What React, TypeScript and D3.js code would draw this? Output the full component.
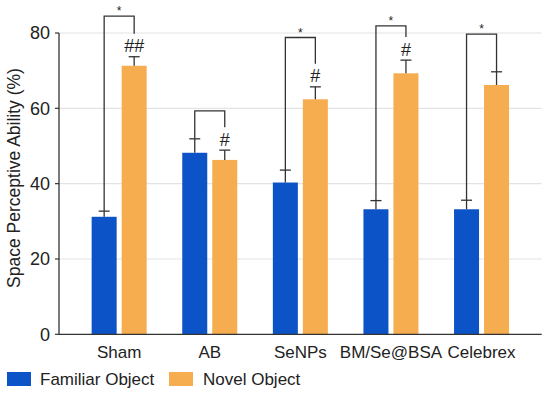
import React from 'react';
import * as d3 from 'd3';

// Data
const categories = ['Sham', 'AB', 'SeNPs', 'BM/Se@BSA', 'Celebrex'];
const familiar = [31.2, 48.2, 40.3, 33.2, 33.2];
const familiarErr = [1.5, 3.7, 3.3, 2.3, 2.4];
const novel = [71.3, 46.3, 62.4, 69.3, 66.2];
const novelErr = [2.4, 2.6, 3.3, 3.5, 3.5];
const hashMarks = ['##', '#', '#', '#', ''];
const bracketTop = [84.5, 59.3, 78.8, 81.9, 79.7];
const starMarks = ['*', '', '*', '*', '*'];
const yTicks = [0, 20, 40, 60, 80];

const BLUE = '#0b53c6';
const ORANGE = '#f6ad4f';
const INK = '#333';
const FONT = '"Liberation Sans", Arial, sans-serif';

const App = () => {
  const width = 550;
  const height = 393;
  const left = 59;
  const right = 541.7;

  const y = d3.scaleLinear().domain([0, 80]).range([334.3, 33]);
  const x = d3.scalePoint<string>().domain(categories).range([left, right]).padding(0.664);

  const barW = 25;
  const gap = 2.5;
  const capW = 11;

  return (
    <svg width={width} height={height} style={{ position: 'absolute', left: 0, top: 0 }}>
      <rect width={width} height={height} fill="#fff" />
      {/* grid */}
      {yTicks.filter(t => t > 0).map(t => (
        <line key={t} x1={left} x2={right} y1={y(t)} y2={y(t)} stroke="#e3e3e3" strokeWidth={1.2} />
      ))}
      {/* y ticks */}
      {yTicks.map(t => (
        <g key={t}>
          <line x1={left - 4} x2={left} y1={y(t)} y2={y(t)} stroke={INK} strokeWidth={1.2} />
          <text x={50} y={y(t)} dy="0.36em" textAnchor="end" fontSize={18} fontFamily={FONT} fill="#222">{t}</text>
        </g>
      ))}
      <line x1={left} x2={left} y1={y(0)} y2={y(80)} stroke={INK} strokeWidth={1.3} />

      {categories.map((c, i) => {
        const cx = x(c) as number;
        const fx = cx - gap - barW;
        const nx = cx + gap;
        const fc = fx + barW / 2;
        const nc = nx + barW / 2;
        const fTop = y(familiar[i] + familiarErr[i]);
        const nTop = y(novel[i] + novelErr[i]);
        const bTop = y(bracketTop[i]);
        const rightEnd = hashMarks[i] ? nTop - 23 : nTop;
        return (
          <g key={c}>
            <rect x={fx} y={y(familiar[i])} width={barW} height={y(0) - y(familiar[i])} fill={BLUE} />
            <rect x={nx} y={y(novel[i])} width={barW} height={y(0) - y(novel[i])} fill={ORANGE} />
            {/* error bars */}
            <line x1={fc} x2={fc} y1={y(familiar[i])} y2={fTop} stroke={INK} strokeWidth={1.3} />
            <line x1={fc - capW / 2} x2={fc + capW / 2} y1={fTop} y2={fTop} stroke={INK} strokeWidth={1.3} />
            <line x1={nc} x2={nc} y1={y(novel[i])} y2={nTop} stroke={INK} strokeWidth={1.3} />
            <line x1={nc - capW / 2} x2={nc + capW / 2} y1={nTop} y2={nTop} stroke={INK} strokeWidth={1.3} />
            {/* bracket */}
            <path d={`M${fc},${fTop}V${bTop}H${nc}V${rightEnd}`} fill="none" stroke={INK} strokeWidth={1.3} />
            {starMarks[i] && (
              <text x={(fc + nc) / 2} y={bTop - 1} textAnchor="middle" fontSize={12} fontFamily={FONT} fill="#222">{starMarks[i]}</text>
            )}
            {hashMarks[i] && (
              <text x={nc} y={nTop - 11} dy="0.36em" textAnchor="middle" fontSize={18} fontFamily={FONT} fill="#222">{hashMarks[i]}</text>
            )}
            <text x={cx} y={351.7} dy="0.36em" textAnchor="middle" fontSize={17} fontFamily={FONT} fill="#222">{c}</text>
          </g>
        );
      })}
      <line x1={left} x2={right} y1={y(0)} y2={y(0)} stroke={INK} strokeWidth={1.3} />

      {/* y title */}
      <text transform={`translate(20,178) rotate(-90)`} textAnchor="middle" fontSize={17.5} fontFamily={FONT} fill="#222">
        Space Perceptive Ability (%)
      </text>

      {/* legend */}
      <rect x={7} y={372} width={24} height={14} fill={BLUE} />
      <text x={40} y={379} dy="0.36em" fontSize={17} fontFamily={FONT} fill="#222">Familiar Object</text>
      <rect x={169} y={372} width={24} height={14} fill={ORANGE} />
      <text x={203} y={379} dy="0.36em" fontSize={17} fontFamily={FONT} fill="#222">Novel Object</text>
    </svg>
  );
};

export default App;
